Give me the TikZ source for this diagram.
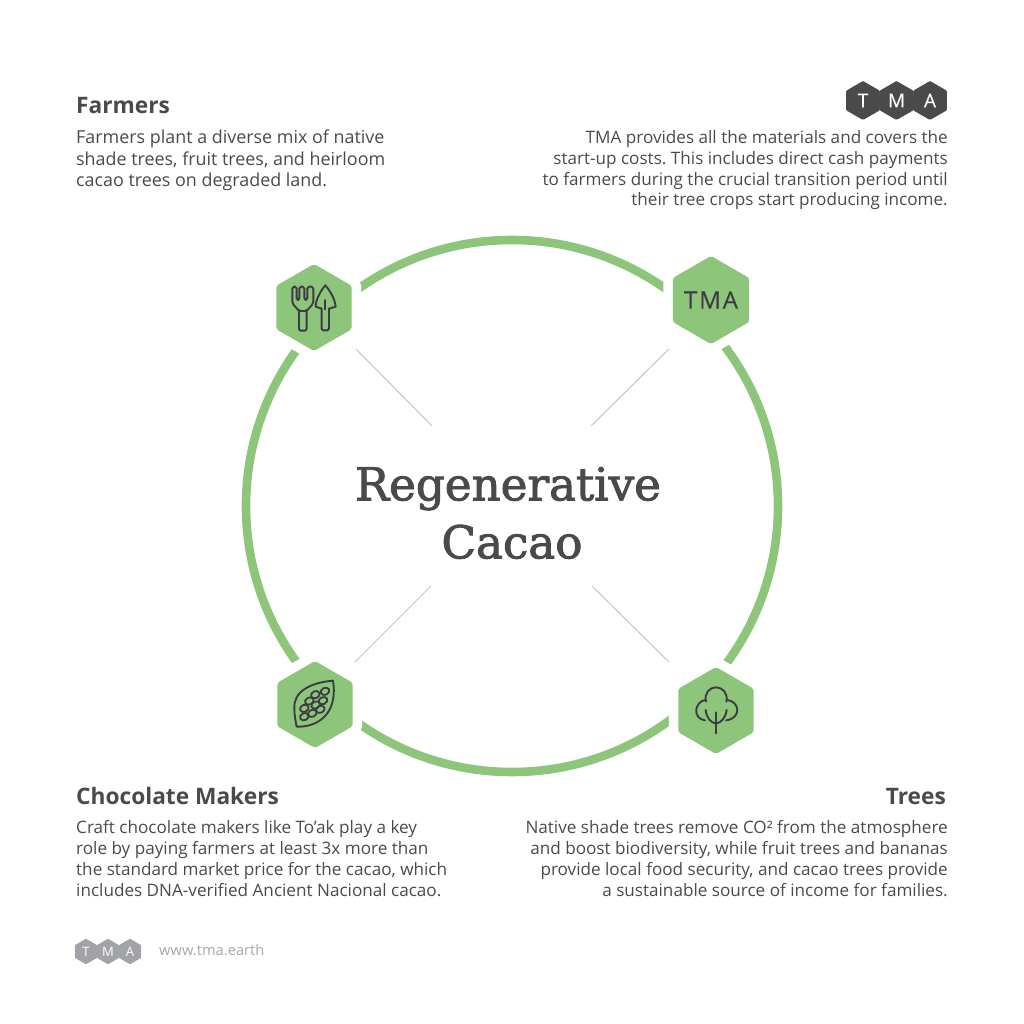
\documentclass[tikz,border=0pt]{standalone}
\usepackage{fontspec}
\setmainfont{Open Sans}
\newfontfamily\titlefont[FakeBold=2]{DejaVu Serif}
\usetikzlibrary{shapes.geometric,calc}
\definecolor{leaf}{HTML}{8DC67B}
\definecolor{ink}{HTML}{4A4A4A}
\definecolor{iconink}{HTML}{3E3B45}
\definecolor{logodark}{HTML}{4A4A4A}
\definecolor{logolight}{HTML}{A2A3A8}
\definecolor{urlgrey}{HTML}{A3A8AC}
\definecolor{spoke}{HTML}{C4C4C4}
\tikzset{
  hexnode/.style={regular polygon,regular polygon sides=6,shape border rotate=30,fill=leaf,inner sep=0pt,minimum size=87pt,rounded corners=2pt,preaction={draw=white,line width=19pt}},
  logohex/.style={regular polygon,regular polygon sides=6,shape border rotate=30,fill=logodark,inner sep=0pt,minimum size=39pt,rounded corners=1pt,text=white,font=\fontsize{19}{19}\selectfont\addfontfeatures{FakeBold=0.3}},
  footlogo/.style={regular polygon,regular polygon sides=6,shape border rotate=30,fill=logolight,inner sep=0pt,minimum size=25.5pt,rounded corners=.7pt,text=white,font=\fontsize{13}{13}\selectfont},
  ring/.style={draw=leaf,line width=8.6pt},
  spokeline/.style={draw=spoke,line width=1pt},
  iconline/.style={draw=iconink,line width=1.9pt,line join=round,line cap=round},
  heading/.style={text=ink,inner sep=0pt,font=\fontsize{22.7}{26}\bfseries\selectfont},
  body/.style={text=ink,inner sep=0pt,font=\fontsize{17.12}{20.9}\selectfont},
  bodywide/.style={body,font=\fontsize{17.9}{21.4}\selectfont},
}
\begin{document}
\frenchspacing
\begin{tikzpicture}[x=1pt,y=-1pt]
\useasboundingbox (0,0) rectangle (1024,1024);
\coordinate (c) at (512,506);
% ring, interrupted by the white halo of each hexagon
\draw[ring] (c) circle[radius=266pt];
% hexagons
\node[hexnode] (hexF) at (314,307.5) {};
\node[hexnode,font=\fontsize{24}{24}\selectfont\addfontfeatures{LetterSpace=8,FakeBold=0.4},text=iconink] (hexT) at (711,300) {TMA};
\node[hexnode] (hexC) at (315,704.5) {};
\node[hexnode] (hexR) at (716,710.5) {};
% spokes
\coordinate (s1a) at (356,349); \coordinate (s1b) at (432,426);
\coordinate (s2a) at (669,349); \coordinate (s2b) at (591,426);
\coordinate (s3a) at (355,662); \coordinate (s3b) at (431,586);
\coordinate (s4a) at (669,662); \coordinate (s4b) at (592,586);
\draw[spokeline] (s1a) -- (s1b);
\draw[spokeline] (s2a) -- (s2b);
\draw[spokeline] (s3a) -- (s3b);
\draw[spokeline] (s4a) -- (s4b);
% title
\node[text=ink,align=center,inner sep=0pt,font=\titlefont\fontsize{45.2}{58}\selectfont] (title) at (512,513) {\hspace*{-8pt}Regenerative\\Cacao};
% fork and trowel
\begin{scope}[shift={($(hexF.center)+(-54,-57.5)$)},scale=1/3]
\draw[iconline,rounded corners=1.5pt] (117,183) -- (117,242) -- (140,242) -- (140,183);
\draw[iconline,rounded corners=1.8pt] (117,183) -- (97,160) -- (97,110) -- (110,110) -- (110,150) -- (118,150) -- (118,110) -- (133,110) -- (133,150) -- (142,150) -- (142,110) -- (160,110) -- (160,160) -- (140,183) -- cycle;
\draw[iconline] (196,106) .. controls (180,125) and (167,150) .. (167,170) -- (185,176);
\draw[iconline] (196,106) .. controls (212,125) and (225,148) .. (227,170) -- (207,176);
\draw[iconline,rounded corners=1.5pt] (185,176) -- (185,241) -- (207,241) -- (207,176);
\draw[iconline] (196,150) -- (196,178);
\end{scope}
% cacao pod
\begin{scope}[shift={($(hexC.center)+(-55,-54.5)$)},scale=1/3]
\draw[iconline] (219,92) .. controls (150,98) and (100,125) .. (103,175) .. controls (103,195) and (107,215) .. (110,230) .. controls (170,232) and (235,195) .. (219,92) -- cycle;
\foreach \bx/\by in {195/124,166/134,148/153,189/152,167/165,133/175,181/178,157/190,133/200}
  \draw[iconline,line width=1.8pt] (\bx,\by) ellipse[x radius=13.5pt,y radius=10.5pt,rotate=25];
\end{scope}
% tree
\begin{scope}[shift={($(hexR.center)+(-56,-55.5)$)},scale=1/3]
\draw[iconline] (138,140) .. controls (132,115) and (148,97) .. (168,97) .. controls (188,97) and (205,115) .. (199,140);
\draw[iconline] (135,135) .. controls (105,140) and (95,190) .. (135,196);
\draw[iconline] (202,135) .. controls (240,140) and (245,190) .. (198,196);
\draw[iconline] (168,172) -- (168,235);
\draw[iconline] (137,165) .. controls (140,190) and (152,202) .. (168,206);
\draw[iconline] (200,165) .. controls (196,190) and (184,202) .. (168,206);
\end{scope}
% top logo
\node[logohex] (lt) at (863,100.5) {T};
\node[logohex] (lm) at (896.5,100.5) {M};
\node[logohex] (la) at (930,100.5) {A};
% footer logo
\node[footlogo] (ft) at (86,951.5) {T};
\node[footlogo] (fm) at (108,951.5) {M};
\node[footlogo] (fa) at (130,951.5) {A};
\node[anchor=west,inner sep=0pt,text=urlgrey,font=\fontsize{14.7}{15}\selectfont] (url) at (159,950) {www.tma.earth};
% text
\node[heading,anchor=west] (hF) at (76,106) {Farmers};
\node[bodywide,anchor=north west,align=left] (bF) at (76,130) {Farmers plant a diverse mix of native\\shade trees, fruit trees, and heirloom\\cacao trees on degraded land.};
\node[body,anchor=north east,align=right] (bT) at (948,130) {TMA provides all the materials and covers the\\start-up costs. This includes direct cash payments\\to farmers during the crucial transition period until\\their tree crops start producing income.};
\node[heading,anchor=west] (hC) at (76,796) {Chocolate Makers};
\node[body,anchor=north west,align=left] (bC) at (76,820.5) {Craft chocolate makers like To’ak play a key\\role by paying farmers at least 3x more than\\the standard market price for the cacao, which\\includes DNA-verified Ancient Nacional cacao.};
\node[heading,anchor=east] (hR) at (946,796) {Trees};
\node[body,anchor=north east,align=right] (bR) at (948,820.5) {Native shade trees remove CO² from the atmosphere\\and boost biodiversity, while fruit trees and bananas\\provide local food security, and cacao trees provide\\a sustainable source of income for families.};
\end{tikzpicture}
\end{document}
